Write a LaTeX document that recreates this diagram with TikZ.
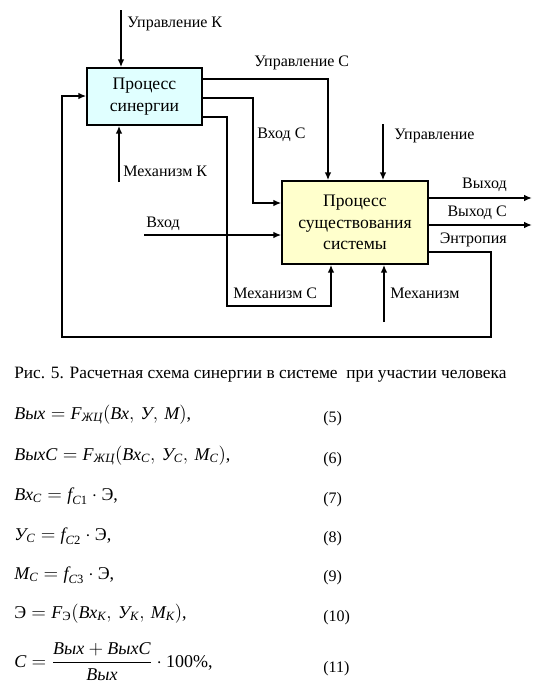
\documentclass[tikz,border=0pt]{standalone}
\usepackage{amsmath}
\usepackage{fontspec}
\setmainfont{Liberation Serif}
\usetikzlibrary{arrows.meta}
\newcommand\ti[1]{\text{\itshape #1}}
\definecolor{boxcyan}{HTML}{E0FFFF}
\definecolor{boxyellow}{HTML}{FFFFCC}
\begin{document}
\begin{tikzpicture}[x=0.75pt,y=-0.75pt,
  arr/.style={line width=1.5pt,-{Latex[length=6pt,width=5pt]}},
  lbl/.style={font=\fontsize{12}{14}\selectfont,inner sep=0pt},
  proc/.style={draw,line width=1.1pt,align=center,font=\fontsize{13.2}{16}\selectfont,inner sep=0pt},
  eq/.style={font=\fontsize{13.5}{16}\selectfont,inner sep=0pt,anchor=base west},
  eqn/.style={font=\fontsize{12}{14}\selectfont,inner sep=0pt,anchor=base west}]
\useasboundingbox (0,0) rectangle (554,694);
% boxes
\node[proc,fill=boxcyan,minimum width=86.25pt,minimum height=42.75pt] (b1) at (144.5,96.5) {Процесс\\синергии};
\node[proc,fill=boxyellow,minimum width=109.5pt,minimum height=62.25pt] (b2) at (355,222.5) {Процесс\\существования\\системы};
% coordinates
\coordinate (ukTop) at (121,10);
\coordinate (mkBot) at (119,182);
\coordinate (vxL) at (144,235);
\coordinate (uTop) at (383,124);
\coordinate (mBot) at (384,322);
\coordinate (out1) at (532,198);
\coordinate (out2) at (532,225);
% connectors
\draw[arr] (ukTop) -- (ukTop |- b1.north);
\draw[arr] (mkBot) -- (mkBot |- b1.south);
\draw[arr] (b1.east |- 0,79) -| (b2.north -| 328,0);
\draw[arr] (b1.east |- 0,98) -| (253,203) -- (b2.west |- 0,203);
\draw[arr] (b1.east |- 0,117) -| (227,306) -| (b2.south -| 331,0);
\draw[arr] (b2.east |- 0,252) -| (491,337) -| (62,96) -- (b1.west |- 0,96);
\draw[arr] (vxL) -- (vxL -| b2.west);
\draw[arr] (uTop) -- (uTop |- b2.north);
\draw[arr] (mBot) -- (mBot |- b2.south);
\draw[arr] (b2.east |- out1) -- (out1);
\draw[arr] (b2.east |- out2) -- (out2);
% labels
\node[lbl,anchor=west] (lUK) at (127,24) {Управление К};
\node[lbl,anchor=west] (lUC) at (254,63) {Управление С};
\node[lbl,anchor=west] (lVC) at (257,135) {Вход С};
\node[lbl,anchor=west] (lMK) at (123,171) {Механизм К};
\node[lbl,anchor=west] (lV) at (146,224) {Вход};
\node[lbl,anchor=west] (lU) at (394,136) {Управление};
\node[lbl,anchor=east] (lO1) at (507,185) {Выход};
\node[lbl,anchor=east] (lO2) at (507,213) {Выход С};
\node[lbl,anchor=east] (lE) at (507,240) {Энтропия};
\node[lbl,anchor=west] (lMC) at (233,293) {Механизм С};
\node[lbl,anchor=west] (lM) at (390,293) {Механизм};
% caption
\node[lbl,anchor=west,font=\fontsize{13}{15}\selectfont] (cap) at (14,375) {Рис. 5. Расчетная схема синергии в системе~ при участии человека};
% equations
\node[eq] (e5) at (14,419) {$\ti{Вых}=\ti{F}_{\ti{ЖЦ}}(\ti{Вх},\,\ti{У},\,\ti{М})$,};
\node[eq] (e6) at (14,460) {$\ti{ВыхC}=\ti{F}_{\ti{ЖЦ}}(\ti{Вх}_{\ti{C}},\,\ti{У}_{\ti{C}},\,\ti{М}_{\ti{C}})$,};
\node[eq] (e7) at (14,500) {$\ti{Вх}_{\ti{C}}=\ti{f}_{\ti{C}\text{1}}\cdot\text{Э}$,};
\node[eq] (e8) at (14,540) {$\ti{У}_{\ti{C}}=\ti{f}_{\ti{C}\text{2}}\cdot\text{Э}$,};
\node[eq] (e9) at (14,579) {$\ti{М}_{\ti{C}}=\ti{f}_{\ti{C}\text{3}}\cdot\text{Э}$,};
\node[eq] (e10) at (14,618) {$\text{Э}=\ti{F}_{\text{Э}}(\ti{Вх}_{\ti{К}},\,\ti{У}_{\ti{К}},\,\ti{М}_{\ti{К}})$,};
\node[eq] (e11) at (14,667) {$\ti{C}=\dfrac{\ti{Вых}+\ti{ВыхC}}{\ti{Вых}}\cdot\text{100\%}$,};
\node[eqn] (n5) at (323,422) {(5)};
\node[eqn] (n6) at (323,463) {(6)};
\node[eqn] (n7) at (323,503) {(7)};
\node[eqn] (n8) at (323,542) {(8)};
\node[eqn] (n9) at (323,581) {(9)};
\node[eqn] (n10) at (323,621) {(10)};
\node[eqn] (n11) at (323,672) {(11)};
\end{tikzpicture}
\end{document}
